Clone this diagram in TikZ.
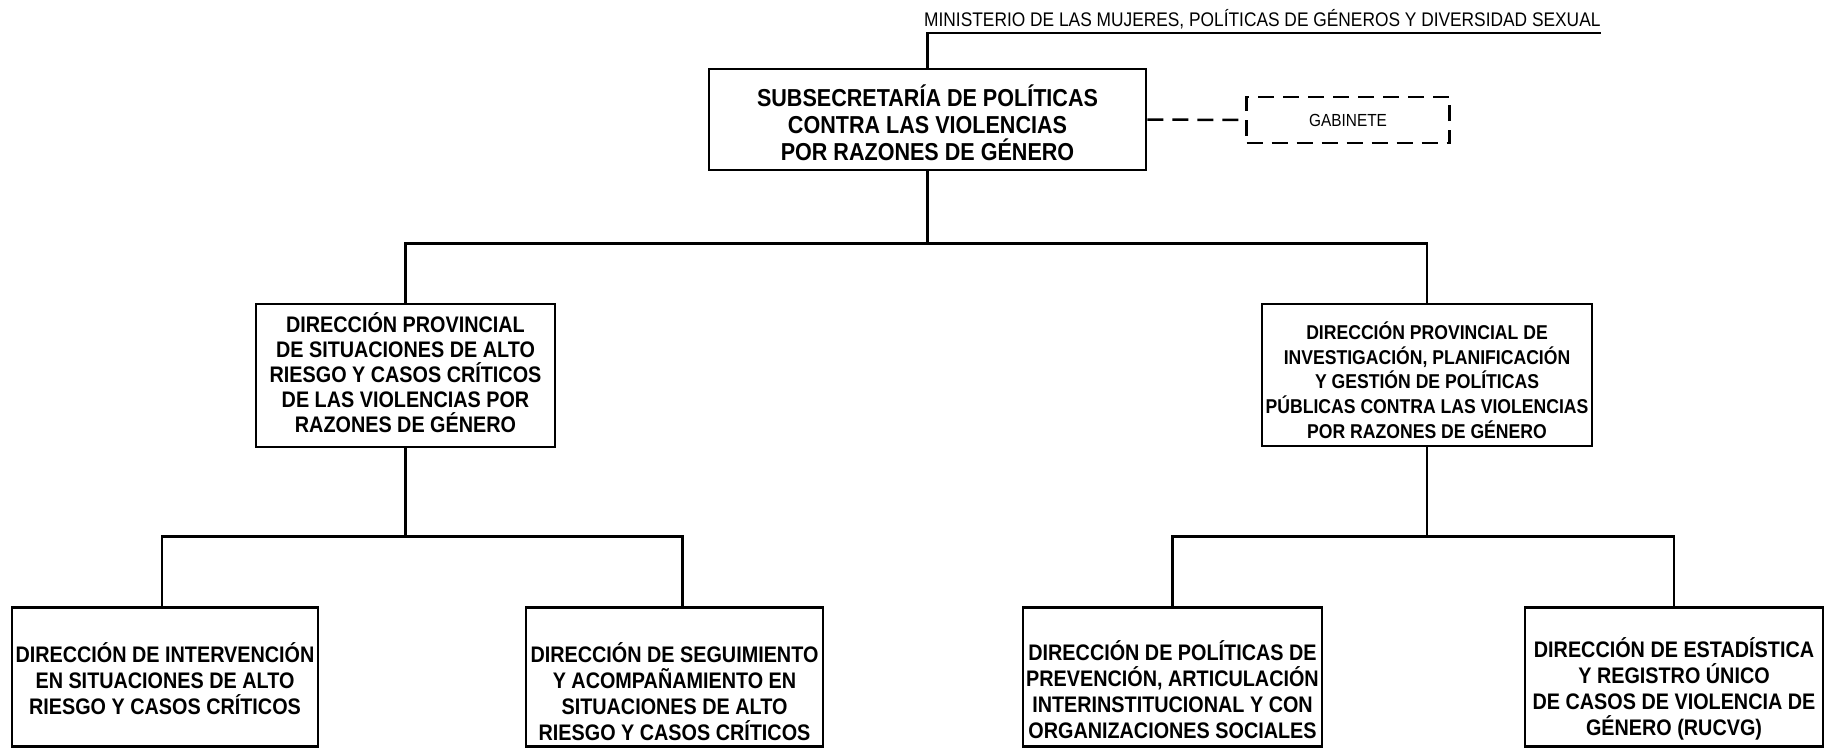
\documentclass[tikz,border=0pt]{standalone}
\usepackage{fontspec}
\usepackage{array}
\setmainfont[FakeStretch=0.88]{Liberation Sans}
\newcolumntype{Z}{>{\setbox0=\hbox\bgroup}c<{\egroup\ht0=0pt \dp0=0pt \box0}}
\newcommand{\dn}[2]{\raisebox{-#1}[0pt][0pt]{\begin{tabular}{@{}Z@{}}#2\end{tabular}}}
\begin{document}
\begin{tikzpicture}[x=1pt,y=-1pt,
  bx/.style={draw, line width=2.9pt, inner sep=0pt, align=center,
    font=\bfseries\fontsize{22.5}{25.2}\selectfont},
  bxlow/.style={bx, font=\bfseries\fontsize{22.5}{26}\selectfont},
  conn/.style={line width=2.4pt},
  dsh/.style={line width=2.5pt, dash pattern=on 16pt off 9pt}]
\useasboundingbox (0,0) rectangle (1825,748);
\node[inner xsep=0pt, inner ysep=6pt, text depth=0pt, anchor=south west,
  font=\fontsize{19.7}{22}\selectfont] (title) at (924,33)
  {MINISTERIO DE LAS MUJERES, POLÍTICAS DE GÉNEROS Y DIVERSIDAD SEXUAL};
\node[bx, minimum width=437pt, minimum height=101pt,
  font=\bfseries\fontsize{24.5}{27.3}\selectfont] (sub) at (927.5,119.5)
  {\dn{14.9pt}{SUBSECRETARÍA DE POLÍTICAS\\CONTRA LAS VIOLENCIAS\\POR RAZONES DE GÉNERO}};
\node[draw, dsh, minimum width=203pt, minimum height=46pt, inner sep=0pt,
  font=\fontsize{17.5}{20}\selectfont] (gab) at (1348,120) {GABINETE};
\node[bx, minimum width=299pt, minimum height=143pt] (dpL) at (405.5,375.5)
  {\dn{7.2pt}{DIRECCIÓN PROVINCIAL\\DE SITUACIONES DE ALTO\\RIESGO Y CASOS CRÍTICOS\\DE LAS VIOLENCIAS POR\\RAZONES DE GÉNERO}};
\node[bx, minimum width=330pt, minimum height=142pt,
  font=\bfseries\fontsize{20}{24.7}\selectfont] (dpR) at (1427,375)
  {\dn{14.2pt}{DIRECCIÓN PROVINCIAL DE\\INVESTIGACIÓN, PLANIFICACIÓN\\Y GESTIÓN DE POLÍTICAS\\PÚBLICAS CONTRA LAS VIOLENCIAS\\POR RAZONES DE GÉNERO}};
\node[bxlow, minimum width=306pt, minimum height=139pt] (b1) at (165,677)
  {\dn{11.5pt}{DIRECCIÓN DE INTERVENCIÓN\\EN SITUACIONES DE ALTO\\RIESGO Y CASOS CRÍTICOS}};
\node[bxlow, minimum width=297pt, minimum height=139pt] (b2) at (674.5,677)
  {\dn{24.5pt}{DIRECCIÓN DE SEGUIMIENTO\\Y ACOMPAÑAMIENTO EN\\SITUACIONES DE ALTO\\RIESGO Y CASOS CRÍTICOS}};
\node[bxlow, minimum width=299pt, minimum height=139pt] (b3) at (1172.5,677)
  {\dn{22pt}{DIRECCIÓN DE POLÍTICAS DE\\PREVENCIÓN, ARTICULACIÓN\\INTERINSTITUCIONAL Y CON\\ORGANIZACIONES SOCIALES}};
\node[bxlow, minimum width=298pt, minimum height=139pt] (b4) at (1674,677)
  {\dn{19pt}{DIRECCIÓN DE ESTADÍSTICA\\Y REGISTRO ÚNICO\\DE CASOS DE VIOLENCIA DE\\GÉNERO (RUCVG)}};
\draw[conn] (sub.north) |- (title.south east);
\draw[dsh] (sub.east) -- (gab.west);
\draw[conn] (sub.south) -- ++(0,72) coordinate (bus1);
\draw[conn] (dpL.north) |- (bus1) -| (dpR.north);
\draw[conn] (dpL.south) -- ++(0,88) coordinate (busL);
\draw[conn] ([xshift=-3pt]b1.north) |- (busL) -| ([xshift=8pt]b2.north);
\draw[conn] (dpR.south) -- ++(0,89) coordinate (busR);
\draw[conn] (b3.north) |- (busR) -| (b4.north);
\end{tikzpicture}
\end{document}
